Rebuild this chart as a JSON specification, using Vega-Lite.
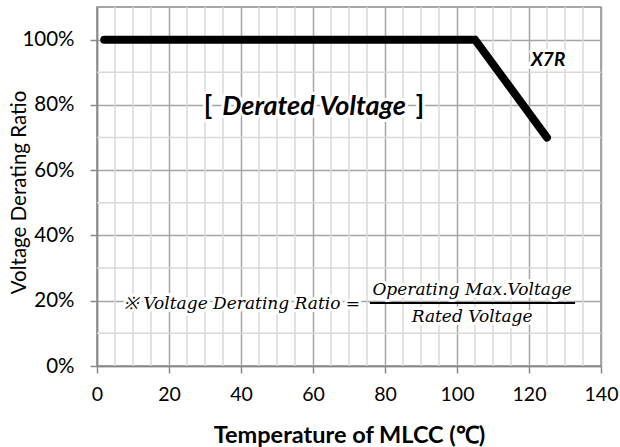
{
  "$schema": "https://vega.github.io/schema/vega-lite/v6.json",
  "width": 504,
  "height": 359,
  "autosize": "none",
  "padding": {"left": 97, "top": 7, "right": 19, "bottom": 81},
  "background": "white",
  "config": {
    "view": {"stroke": "#898989", "strokeWidth": 1.5},
    "font": "Lato",
    "axis": {
      "labelFont": "Lato", "labelFontSize": 19, "labelColor": "black",
      "titleFont": "Lato", "titleColor": "black",
      "gridColor": "#a5a5a5", "gridWidth": 1.5,
      "tickColor": "#898989", "tickSize": 7, "tickWidth": 1.5,
      "domainColor": "#898989", "domainWidth": 1.5
    }
  },
  "datasets": {
    "curve": [
      {"temp": 2, "ratio": 100},
      {"temp": 105, "ratio": 100},
      {"temp": 125, "ratio": 70}
    ],
    "minorx": [
      {"gx": 5}, {"gx": 10}, {"gx": 15}, {"gx": 25}, {"gx": 30}, {"gx": 35},
      {"gx": 45}, {"gx": 50}, {"gx": 55}, {"gx": 65}, {"gx": 70}, {"gx": 75},
      {"gx": 85}, {"gx": 90}, {"gx": 95}, {"gx": 105}, {"gx": 110}, {"gx": 115},
      {"gx": 125}, {"gx": 130}, {"gx": 135}
    ],
    "minory": [
      {"gy": 10}, {"gy": 30}, {"gy": 50}, {"gy": 70}, {"gy": 90}
    ],
    "one": [{}]
  },
  "layer": [
    {
      "data": {"name": "curve"},
      "mark": {"type": "line", "opacity": 0},
      "encoding": {
        "x": {
          "field": "temp", "type": "quantitative",
          "scale": {"domain": [0, 140], "nice": false, "zero": false},
          "axis": {
            "values": [0, 20, 40, 60, 80, 100, 120, 140],
            "title": "Temperature of MLCC (℃)",
            "labelFontSize": 19.5,
            "labelPadding": 12, "labelFlush": false, "labelOverlap": false,
            "titleFontSize": 23.5, "titleFontWeight": "bold",
            "titleY": 69, "titleBaseline": "middle"
          }
        },
        "y": {
          "field": "ratio", "type": "quantitative",
          "scale": {"domain": [0, 110], "nice": false},
          "axis": {
            "values": [0, 20, 40, 60, 80, 100],
            "title": "Voltage Derating Ratio",
            "labelExpr": "datum.value + '%'",
            "labelFontSize": 20.5,
            "labelPadding": 16, "labelOverlap": false,
            "titleFontSize": 20.5, "titleFontWeight": "normal",
            "titleX": -78, "titleY": 185, "titleBaseline": "middle", "titleAngle": -90
          }
        }
      }
    },
    {
      "data": {"name": "minorx"},
      "mark": {"type": "rule", "color": "#d9d9d9", "strokeWidth": 1.5},
      "encoding": {"x": {"field": "gx", "type": "quantitative"}}
    },
    {
      "data": {"name": "minory"},
      "mark": {"type": "rule", "color": "#d9d9d9", "strokeWidth": 1.5},
      "encoding": {"y": {"field": "gy", "type": "quantitative"}}
    },
    {
      "data": {"name": "curve"},
      "mark": {"type": "line", "color": "black", "strokeWidth": 8, "strokeCap": "round", "strokeJoin": "miter"},
      "encoding": {
        "x": {"field": "temp", "type": "quantitative"},
        "y": {"field": "ratio", "type": "quantitative"}
      }
    },
    {
      "data": {"name": "one"},
      "mark": {"type": "text", "font": "Lato", "fontSize": 27, "fontWeight": "bold", "fontStyle": "italic", "stroke": "white", "strokeWidth": 6, "strokeJoin": "round", "fill": "white", "align": "center", "baseline": "middle"},
      "encoding": {"x": {"datum": 60.3}, "y": {"datum": 79.4}, "text": {"value": "Derated Voltage"}}
    },
    {
      "data": {"name": "one"},
      "mark": {"type": "text", "font": "Lato", "fontSize": 27, "fontWeight": "bold", "fontStyle": "italic", "color": "black", "align": "center", "baseline": "middle"},
      "encoding": {"x": {"datum": 60.3}, "y": {"datum": 79.4}, "text": {"value": "Derated Voltage"}}
    },
    {
      "data": {"name": "one"},
      "mark": {"type": "text", "font": "Lato", "fontSize": 27, "fontWeight": "bold", "stroke": "white", "strokeWidth": 6, "strokeJoin": "round", "fill": "white", "align": "center", "baseline": "middle"},
      "encoding": {"x": {"datum": 30.8}, "y": {"datum": 79.4}, "text": {"value": "["}}
    },
    {
      "data": {"name": "one"},
      "mark": {"type": "text", "font": "Lato", "fontSize": 27, "fontWeight": "bold", "color": "black", "align": "center", "baseline": "middle"},
      "encoding": {"x": {"datum": 30.8}, "y": {"datum": 79.4}, "text": {"value": "["}}
    },
    {
      "data": {"name": "one"},
      "mark": {"type": "text", "font": "Lato", "fontSize": 27, "fontWeight": "bold", "stroke": "white", "strokeWidth": 6, "strokeJoin": "round", "fill": "white", "align": "center", "baseline": "middle"},
      "encoding": {"x": {"datum": 89.7}, "y": {"datum": 79.4}, "text": {"value": "]"}}
    },
    {
      "data": {"name": "one"},
      "mark": {"type": "text", "font": "Lato", "fontSize": 27, "fontWeight": "bold", "color": "black", "align": "center", "baseline": "middle"},
      "encoding": {"x": {"datum": 89.7}, "y": {"datum": 79.4}, "text": {"value": "]"}}
    },
    {
      "data": {"name": "one"},
      "mark": {"type": "text", "font": "Lato", "fontSize": 19, "fontWeight": "bold", "fontStyle": "italic", "stroke": "white", "strokeWidth": 6, "strokeJoin": "round", "fill": "white", "align": "center", "baseline": "middle"},
      "encoding": {"x": {"datum": 125.3}, "y": {"datum": 93.9}, "text": {"value": "X7R"}}
    },
    {
      "data": {"name": "one"},
      "mark": {"type": "text", "font": "Lato", "fontSize": 19, "fontWeight": "bold", "fontStyle": "italic", "color": "black", "align": "center", "baseline": "middle"},
      "encoding": {"x": {"datum": 125.3}, "y": {"datum": 93.9}, "text": {"value": "X7R"}}
    },
    {
      "data": {"name": "one"},
      "mark": {"type": "text", "font": "DejaVu Serif", "fontSize": 17, "fontStyle": "italic", "stroke": "white", "strokeWidth": 6, "strokeJoin": "round", "fill": "white", "align": "left", "baseline": "middle"},
      "encoding": {"x": {"datum": 7.5}, "y": {"datum": 19.0}, "text": {"value": "※ Voltage Derating Ratio ="}}
    },
    {
      "data": {"name": "one"},
      "mark": {"type": "text", "font": "DejaVu Serif", "fontSize": 17, "fontStyle": "italic", "color": "black", "align": "left", "baseline": "middle"},
      "encoding": {"x": {"datum": 7.5}, "y": {"datum": 19.0}, "text": {"value": "※ Voltage Derating Ratio ="}}
    },
    {
      "data": {"name": "one"},
      "mark": {"type": "text", "font": "DejaVu Serif", "fontSize": 17, "fontStyle": "italic", "stroke": "white", "strokeWidth": 6, "strokeJoin": "round", "fill": "white", "align": "center", "baseline": "middle"},
      "encoding": {"x": {"datum": 104.2}, "y": {"datum": 23.3}, "text": {"value": "Operating Max.Voltage"}}
    },
    {
      "data": {"name": "one"},
      "mark": {"type": "text", "font": "DejaVu Serif", "fontSize": 17, "fontStyle": "italic", "color": "black", "align": "center", "baseline": "middle"},
      "encoding": {"x": {"datum": 104.2}, "y": {"datum": 23.3}, "text": {"value": "Operating Max.Voltage"}}
    },
    {
      "data": {"name": "one"},
      "mark": {"type": "text", "font": "DejaVu Serif", "fontSize": 17, "fontStyle": "italic", "stroke": "white", "strokeWidth": 6, "strokeJoin": "round", "fill": "white", "align": "center", "baseline": "middle"},
      "encoding": {"x": {"datum": 104.2}, "y": {"datum": 15.0}, "text": {"value": "Rated Voltage"}}
    },
    {
      "data": {"name": "one"},
      "mark": {"type": "text", "font": "DejaVu Serif", "fontSize": 17, "fontStyle": "italic", "color": "black", "align": "center", "baseline": "middle"},
      "encoding": {"x": {"datum": 104.2}, "y": {"datum": 15.0}, "text": {"value": "Rated Voltage"}}
    },
    {
      "data": {"name": "one"},
      "mark": {"type": "rule", "color": "black", "strokeWidth": 2},
      "encoding": {"x": {"datum": 75.8}, "x2": {"datum": 132.8}, "y": {"datum": 19.3}}
    }
  ]
}
